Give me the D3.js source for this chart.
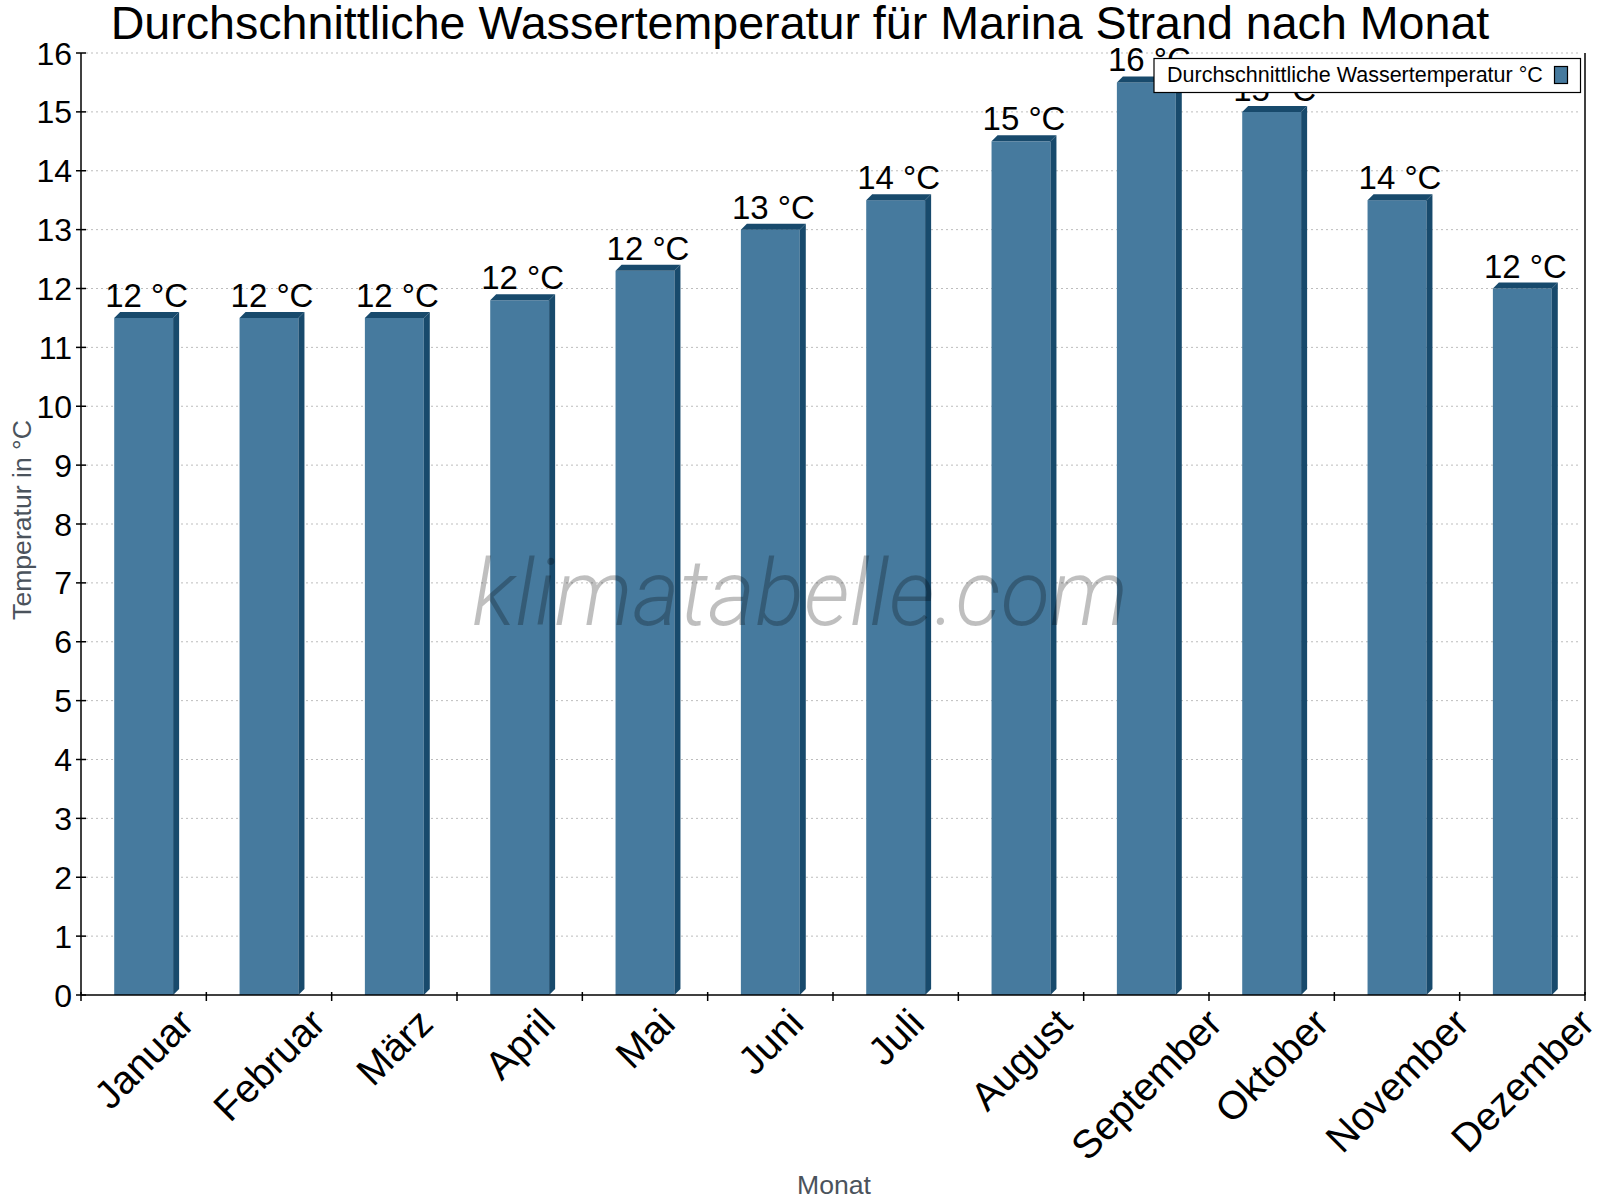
<!DOCTYPE html>
<html>
<head>
<meta charset="utf-8">
<script src="https://cdn.jsdelivr.net/npm/d3@7"></script>
<style>
    body { margin: 0; background: #fff; }
    svg text { font-family: "Liberation Sans", Arial, sans-serif; }
</style>
</head>
<body>
<div id="chart"></div>
<script>
// Monthly average water temperature, Marina Strand
const months = ['Januar', 'Februar', 'März', 'April', 'Mai', 'Juni',
    'Juli', 'August', 'September', 'Oktober', 'November', 'Dezember'];
const waterTemp = [11.5, 11.5, 11.5, 11.8, 12.3, 13.0, 13.5, 14.5, 15.5, 15.0, 13.5, 12.0];
const yTicks = [0, 1, 2, 3, 4, 5, 6, 7, 8, 9, 10, 11, 12, 13, 14, 15, 16];

const chartTitle = 'Durchschnittliche Wassertemperatur für Marina Strand nach Monat';
const seriesName = 'Durchschnittliche Wassertemperatur °C';
const yTitle = 'Temperatur in °C';
const xTitle = 'Monat';
const watermark = 'klimatabelle.com';

class WaterTempChart {
    constructor(containerId) {
        this.width = 1600;
        this.height = 1200;
        this.margin = {top: 53, right: 15, bottom: 205, left: 81};

        this.colors = {
            front: '#467a9e',   // bar face
            dark: '#184a6c',    // bar top + side
            axis: '#000',
            grid: '#bdbdbd',
            title: '#4b535c'
        };
        this.depth = 6;

        this.svg = d3.select(containerId).append('svg')
            .attr('width', this.width)
            .attr('height', this.height);

        this.render();
    }

    render() {
        const m = this.margin;
        const x0 = m.left, x1 = this.width - m.right;
        const y0 = this.height - m.bottom, y1 = m.top;

        this.x = d3.scaleBand().domain(months).range([x0, x1]).padding(0);
        this.y = d3.scaleLinear().domain([0, 16]).range([y0, y1]);

        this.drawGrid(x0, x1);
        this.drawBars(y0);
        this.drawWatermark();
        this.drawAxes(x0, x1, y0, y1);
        this.drawLabels();
        this.drawTitles();
        this.drawLegend();
    }

    drawGrid(x0, x1) {
        this.svg.append('g')
            .selectAll('line')
            .data(yTicks.filter(d => d > 0))
            .enter()
            .append('line')
            .attr('x1', x0 + 5)
            .attr('x2', x1 - 5)
            .attr('y1', d => this.y(d))
            .attr('y2', d => this.y(d))
            .attr('stroke', this.colors.grid)
            .attr('stroke-width', 1)
            .attr('stroke-dasharray', '2,3');
    }

    drawBars(base) {
        const dp = this.depth;
        const bw = this.x.bandwidth() * 0.47;
        const g = this.svg.append('g');

        const bars = g.selectAll('g.bar')
            .data(months.map((mo, i) => ({month: mo, value: waterTemp[i]})))
            .enter()
            .append('g')
            .attr('class', 'bar');

        const left = d => this.x(d.month) + this.x.bandwidth() / 2 - bw / 2;

        // front face
        bars.append('rect')
            .attr('x', d => left(d))
            .attr('y', d => this.y(d.value))
            .attr('width', bw)
            .attr('height', d => base - this.y(d.value))
            .attr('fill', this.colors.front);

        // top face
        bars.append('polygon')
            .attr('points', d => {
                const l = left(d), r = l + bw, t = this.y(d.value);
                return [[l, t], [l + dp, t - dp], [r + dp, t - dp], [r, t]].join(' ');
            })
            .attr('fill', this.colors.dark);

        // side face
        bars.append('polygon')
            .attr('points', d => {
                const r = left(d) + bw, t = this.y(d.value);
                return [[r, t], [r + dp, t - dp], [r + dp, base - dp], [r, base]].join(' ');
            })
            .attr('fill', this.colors.dark);

        // value labels above the bars
        bars.append('text')
            .attr('x', d => left(d) + bw / 2 + 3)
            .attr('y', d => this.y(d.value) - 11)
            .attr('text-anchor', 'middle')
            .attr('font-size', '33px')
            .attr('fill', '#000')
            .text(d => Math.round(d.value) + ' °C');
    }

    drawWatermark() {
        // thin italic site name, semi-transparent so it darkens the bars
        // (style, not attr, so the css font rule does not win)
        this.svg.append('text')
            .attr('x', 800)
            .attr('y', 625)
            .attr('text-anchor', 'middle')
            .style('font-family', 'Roboto, Lato, "Open Sans", sans-serif')
            .style('font-style', 'italic')
            .style('font-weight', 300)
            .style('font-size', '92px')
            .attr('textLength', 656)
            .attr('lengthAdjust', 'spacingAndGlyphs')
            .attr('fill', '#000')
            .attr('fill-opacity', 0.25)
            .text(watermark);
    }

    drawAxes(x0, x1, y0, y1) {
        const g = this.svg.append('g');

        // left axis, right frame line, bottom axis
        g.append('line').attr('x1', x0).attr('x2', x0).attr('y1', y1).attr('y2', y0);
        g.append('line').attr('x1', x1).attr('x2', x1).attr('y1', y1).attr('y2', y0);
        g.append('line').attr('x1', x0).attr('x2', x1).attr('y1', y0).attr('y2', y0);

        // y ticks
        g.selectAll('line.ytick')
            .data(yTicks)
            .enter()
            .append('line')
            .attr('class', 'ytick')
            .attr('x1', x0 - 5)
            .attr('x2', x0 + 5)
            .attr('y1', d => this.y(d))
            .attr('y2', d => this.y(d));

        // x ticks at band edges
        const edges = months.map(mo => this.x(mo)).concat([x1]);
        g.selectAll('line.xtick')
            .data(edges)
            .enter()
            .append('line')
            .attr('class', 'xtick')
            .attr('x1', d => d)
            .attr('x2', d => d)
            .attr('y1', y0 - 3)
            .attr('y2', y0 + 6);

        g.selectAll('line')
            .attr('stroke', this.colors.axis)
            .attr('stroke-width', 1.5);

        // y tick labels
        this.svg.append('g')
            .selectAll('text')
            .data(yTicks)
            .enter()
            .append('text')
            .attr('x', x0 - 9)
            .attr('y', d => this.y(d))
            .attr('dy', '0.36em')
            .attr('text-anchor', 'end')
            .attr('font-size', '32px')
            .text(d => d);
    }

    drawLabels() {
        const fs = 39.5;
        const top = 1006;
        const self = this;

        // month labels at 45°, box top aligned, centred on the band
        this.svg.append('g')
            .selectAll('text')
            .data(months)
            .enter()
            .append('text')
            .attr('text-anchor', 'middle')
            .attr('dy', '0.35em')
            .attr('font-size', fs + 'px')
            .text(d => d)
            .each(function(d) {
                const len = this.getComputedTextLength();
                const cx = self.x(d) + self.x.bandwidth() / 2;
                const cy = top + (len + 0.716 * fs) * Math.SQRT1_2 / 2;
                d3.select(this).attr('transform', `translate(${cx},${cy}) rotate(-45)`);
            });
    }

    drawTitles() {
        this.svg.append('text')
            .attr('x', 800)
            .attr('y', 39)
            .attr('text-anchor', 'middle')
            .attr('font-size', '46.6px')
            .text(chartTitle);

        this.svg.append('text')
            .attr('transform', 'translate(31, 520) rotate(-90)')
            .attr('text-anchor', 'middle')
            .attr('font-size', '26.6px')
            .attr('fill', this.colors.title)
            .text(yTitle);

        this.svg.append('text')
            .attr('x', 834)
            .attr('y', 1194)
            .attr('text-anchor', 'middle')
            .attr('font-size', '26.6px')
            .attr('fill', this.colors.title)
            .text(xTitle);
    }

    drawLegend() {
        const g = this.svg.append('g');

        g.append('rect')
            .attr('x', 1154)
            .attr('y', 58.5)
            .attr('width', 426.5)
            .attr('height', 34)
            .attr('fill', '#fff')
            .attr('stroke', '#000')
            .attr('stroke-width', 1.2);

        g.append('text')
            .attr('x', 1167)
            .attr('y', 82)
            .attr('font-size', '21.5px')
            .text(seriesName);

        g.append('rect')
            .attr('x', 1554.5)
            .attr('y', 66.5)
            .attr('width', 13)
            .attr('height', 17)
            .attr('fill', this.colors.front)
            .attr('stroke', '#000')
            .attr('stroke-width', 1.2);
    }
}

new WaterTempChart('#chart');
</script>
</body>
</html>
